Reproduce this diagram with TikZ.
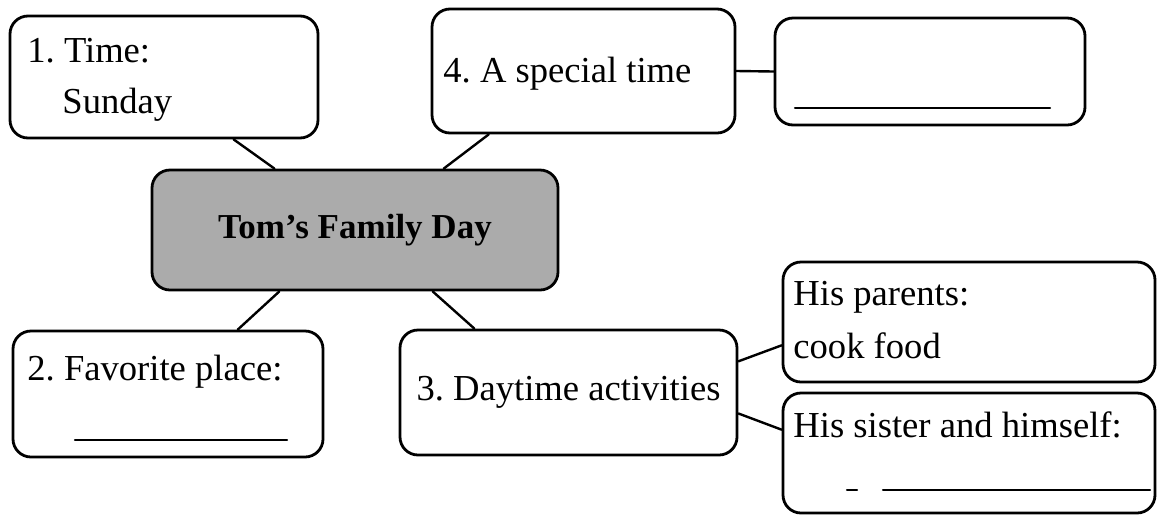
\documentclass[tikz,border=0pt]{standalone}
\usepackage{fontspec}
\setmainfont{Liberation Serif}
\usetikzlibrary{calc}
\frenchspacing
\tikzset{
  box/.style={draw, line width=1.4pt, rounded corners=9pt, inner sep=0pt},
  txt/.style={anchor=base west, inner sep=0pt},
  link/.style={line width=1.2pt},
  fillin/.style={line width=1.1pt}
}
\begin{document}
\begin{tikzpicture}[x=0.5pt, y=-0.5pt, line join=round, line cap=round,
  font=\fontsize{18.3pt}{22pt}\selectfont]
\useasboundingbox (0,0) rectangle (1159,515);
% the boxes
\node[box, minimum width=154pt, minimum height=61pt] (time) at (164,77) {};
\node[box, minimum width=151.5pt, minimum height=62pt] (special) at (583.5,71) {};
\node[box, minimum width=155pt, minimum height=53.5pt] (answer) at (930,71.5) {};
\node[box, fill=black!33, minimum width=203pt, minimum height=60pt,
  font=\bfseries\fontsize{17.5pt}{20pt}\selectfont] (title) at (355,230) {Tom's Family Day};
\node[box, minimum width=155pt, minimum height=63pt] (place) at (168,394) {};
\node[box, minimum width=168.5pt, minimum height=62.5pt] (acts) at (568.5,392.5) {3. Daytime activities};
\node[box, minimum width=186pt, minimum height=60pt] (parents) at (969,322) {};
\node[box, minimum width=186pt, minimum height=60pt] (sister) at (969,453) {};
% texts
\node[txt] (timeA) at (27,62) {1. Time:};
\node[txt] (timeB) at (62,113) {Sunday};
\node[txt] (specialT) at (443,82) {4. A special time};
\node[txt] (placeT) at (27,380) {2. Favorite place:};
\node[txt] (parentsA) at (793,305) {His parents:};
\node[txt] (parentsB) at (793,358) {cook food};
\node[txt] (sisterT) at (793,437) {His sister and himself:};
% blanks to fill in
\draw[fillin] (795,108) -- (1050,108);
\draw[fillin] (75,440) -- (287,440);
\draw[fillin] (847,490) -- (857,490) (883,490) -- (1150,490);
% connectors
\draw[link] ($(time.south west)!.724!(time.south east)$) -- ($(title.north west)!.303!(title.north east)$);
\draw[link] ($(special.south west)!.19!(special.south east)$) -- ($(title.north west)!.717!(title.north east)$);
\draw[link] (special.east) -- (answer.west);
\draw[link] ($(title.south west)!.315!(title.south east)$) -- ($(place.north west)!.723!(place.north east)$);
\draw[link] ($(title.south west)!.69!(title.south east)$) -- ($(acts.north west)!.223!(acts.north east)$);
\draw[link] ($(acts.north east)!.256!(acts.south east)$) -- ($(parents.north west)!.69!(parents.south west)$);
\draw[link] ($(acts.north east)!.664!(acts.south east)$) -- ($(sister.north west)!.31!(sister.south west)$);
\end{tikzpicture}
\end{document}
